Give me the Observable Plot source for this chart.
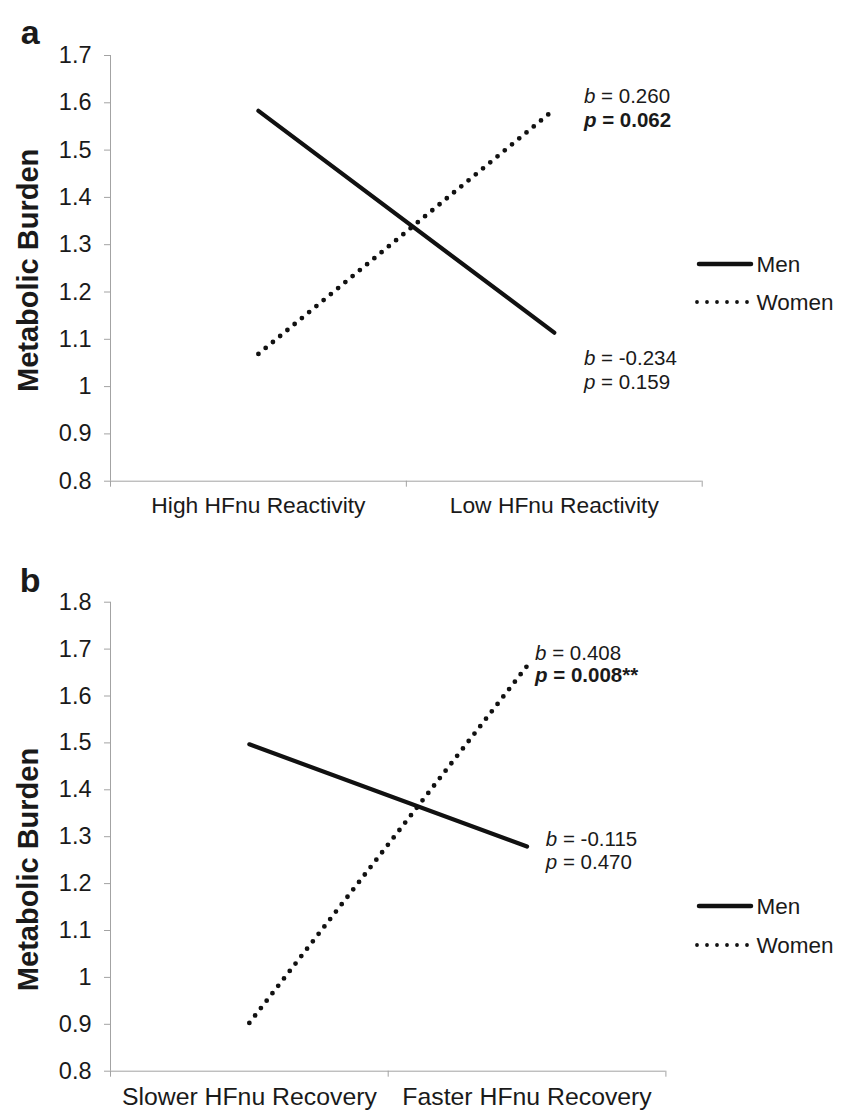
<!DOCTYPE html>
<html>
<head>
<meta charset="utf-8">
<script src="https://cdn.jsdelivr.net/npm/d3@7"></script>
<script src="https://cdn.jsdelivr.net/npm/@observablehq/plot@0.6"></script>
<style>
html, body { margin: 0; padding: 0; background: #fff; }
#root { position: relative; width: 856px; height: 1112px; overflow: hidden; font-family: 'Liberation Sans', Arial, Helvetica, sans-serif; }
.panel { position: absolute; left: 0; }
</style>
</head>
<body>
<div id="root"></div>
<script>
// ---------- data ----------
const seriesNames = ["Men", "Women"];

const categoriesA = ["High HFnu Reactivity", "Low HFnu Reactivity"];
const menA = [1.583, 1.114];
const womenA = [1.069, 1.586];
const yTicksA = [0.8, 0.9, 1.0, 1.1, 1.2, 1.3, 1.4, 1.5, 1.6, 1.7];
const statsA = [
  {series: "Women", b: "0.260", p: "0.062", bold: true},
  {series: "Men", b: "-0.234", p: "0.159", bold: false}
];

const categoriesB = ["Slower HFnu Recovery", "Faster HFnu Recovery"];
const menB = [1.497, 1.279];
const womenB = [0.903, 1.664];
const yTicksB = [0.8, 0.9, 1.0, 1.1, 1.2, 1.3, 1.4, 1.5, 1.6, 1.7, 1.8];
const statsB = [
  {series: "Women", b: "0.408", p: "0.008**", bold: true},
  {series: "Men", b: "-0.115", p: "0.470", bold: false}
];

const yTitle = "Metabolic Burden";

// ---------- styling ----------
const FONT = "'Liberation Sans', Arial, Helvetica, sans-serif";
const GRAY = "#a3a3a3";
const INK = "#1a1a1a";
const root = document.getElementById("root");

function makePanel(cfg) {
  const {cats, men, women, yTicks, stats, letter, top, height, marginTop, marginBottom,
         marginRight, tickFont, xLabelFont, titleDy, letterDy, letterDx, offsets} = cfg;
  const rows = [];
  cats.forEach((c, i) => {
    rows.push({series: seriesNames[0], x: i + 0.5, y: men[i]});
    rows.push({series: seriesNames[1], x: i + 0.5, y: women[i]});
  });
  const last = cats.length - 1;
  const ends = stats.map(s => ({...s, x: last + 0.5, y: (s.series === "Men" ? men : women)[last]}));
  const yDomain = [yTicks[0], yTicks[yTicks.length - 1]];

  const annot = (series, key) => {
    const d = ends.filter(e => e.series === series);
    return Plot.text(d, {
      x: "x", y: "y", text: e => key + " = " + e[key],
      textAnchor: "start", dx: offsets[series].dx, dy: offsets[series][key],
      fontSize: 20.5, fill: INK,
      fontWeight: (key === "p" && d.length && d[0].bold) ? "bold" : "normal"
    });
  };

  const svg = Plot.plot({
    width: 856, height,
    marginLeft: 110, marginRight, marginTop, marginBottom,
    style: {fontFamily: FONT, color: INK, background: "white", overflow: "visible"},
    x: {domain: [0, cats.length], label: null},
    y: {domain: yDomain, label: null},
    marks: [
      Plot.ruleY([yDomain[0]], {stroke: GRAY, strokeWidth: 1}),
      Plot.ruleX([0], {stroke: GRAY, strokeWidth: 1}),
      Plot.axisY({ticks: yTicks, tickSize: 6, tickPadding: 13, stroke: GRAY, fill: INK,
                  fontSize: tickFont, tickFormat: d => String(+d.toFixed(1)), label: null}),
      Plot.axisX({ticks: d3.range(cats.length + 1), tickSize: 6, stroke: GRAY,
                  tickFormat: () => "", label: null}),
      Plot.axisX({ticks: cats.map((c, i) => i + 0.5), tickSize: 0, tickPadding: 16,
                  fontSize: xLabelFont, fill: INK, tickFormat: d => cats[Math.floor(d)], label: null}),
      Plot.line(rows.filter(r => r.series === "Men"), {
        x: "x", y: "y", stroke: "#111", strokeWidth: 4.2, strokeLinecap: "round"
      }),
      Plot.line(rows.filter(r => r.series === "Women"), {
        x: "x", y: "y", stroke: "#111", strokeWidth: 4.8, strokeLinecap: "round",
        strokeDasharray: "0 9.4"
      }),
      annot("Women", "b"), annot("Women", "p"),
      annot("Men", "b"), annot("Men", "p"),
      Plot.text([yTitle], {text: d => d, frameAnchor: "left", textAnchor: "middle", lineAnchor: "middle",
                           rotate: -90, dx: -81.5, dy: titleDy,
                           fontSize: 29, fontWeight: "bold", fill: INK}),
      Plot.text([letter], {text: d => d, frameAnchor: "top-left", textAnchor: "start",
                           dx: letterDx, dy: letterDy, fontSize: 34, fontWeight: "bold", fill: INK})
    ]
  });

  // italic statistic symbols (b, p) inside annotation texts
  svg.querySelectorAll("text").forEach(t => {
    if (t.querySelector("tspan")) return;
    const m = t.textContent.match(/^([bp])( = .+)$/);
    if (!m) return;
    t.textContent = "";
    const s1 = document.createElementNS("http://www.w3.org/2000/svg", "tspan");
    s1.setAttribute("font-style", "italic");
    s1.textContent = m[1];
    const s2 = document.createElementNS("http://www.w3.org/2000/svg", "tspan");
    s2.textContent = m[2];
    t.appendChild(s1); t.appendChild(s2);
  });

  const wrap = document.createElement("div");
  wrap.className = "panel";
  wrap.style.top = top + "px";
  wrap.appendChild(svg);
  root.appendChild(wrap);
}

function makeLegend(yMen, yWomen) {
  const left = 690, top = yMen - 22;
  const svg = d3.select(root).append("svg")
    .attr("class", "panel")
    .style("left", left + "px").style("top", top + "px")
    .attr("width", 166).attr("height", yWomen - yMen + 44)
    .style("font-family", FONT);
  const y1 = yMen - top, y2 = yWomen - top;
  svg.append("line").attr("x1", 699 - left).attr("x2", 751 - left).attr("y1", y1).attr("y2", y1)
    .attr("stroke", "#111").attr("stroke-width", 4.5).attr("stroke-linecap", "round");
  svg.append("line").attr("x1", 697 - left).attr("x2", 747.5 - left).attr("y1", y2).attr("y2", y2)
    .attr("stroke", "#111").attr("stroke-width", 3.8).attr("stroke-linecap", "round")
    .attr("stroke-dasharray", "0 10");
  [[seriesNames[0], y1], [seriesNames[1], y2]].forEach(([name, y]) => {
    svg.append("text").attr("x", 756.5 - left).attr("y", y).attr("dy", "0.35em")
      .attr("font-size", 22.5).attr("fill", INK).text(name);
  });
}

makePanel({
  cats: categoriesA, men: menA, women: womenA, yTicks: yTicksA, stats: statsA, letter: "a",
  top: 0, height: 540, marginTop: 55, marginBottom: 59.3, marginRight: 154.3,
  tickFont: 23.5, xLabelFont: 22.8, titleDy: 2, letterDx: -89.7, letterDy: -35.2,
  offsets: {Women: {dx: 29.7, b: -12.8, p: 11.2}, Men: {dx: 29.7, b: 25.4, p: 49.4}}
});
makePanel({
  cats: categoriesB, men: menB, women: womenB, yTicks: yTicksB, stats: statsB, letter: "b",
  top: 540, height: 572, marginTop: 61.7, marginBottom: 41.3, marginRight: 190.6,
  tickFont: 23.5, xLabelFont: 24.8, titleDy: 32.8, letterDx: -90.7, letterDy: -34.3,
  offsets: {Women: {dx: 8, b: -12.9, p: 9.1}, Men: {dx: 18.8, b: -6.7, p: 15.6}}
});
makeLegend(263.5, 301.5);
makeLegend(906, 945);
</script>
</body>
</html>
